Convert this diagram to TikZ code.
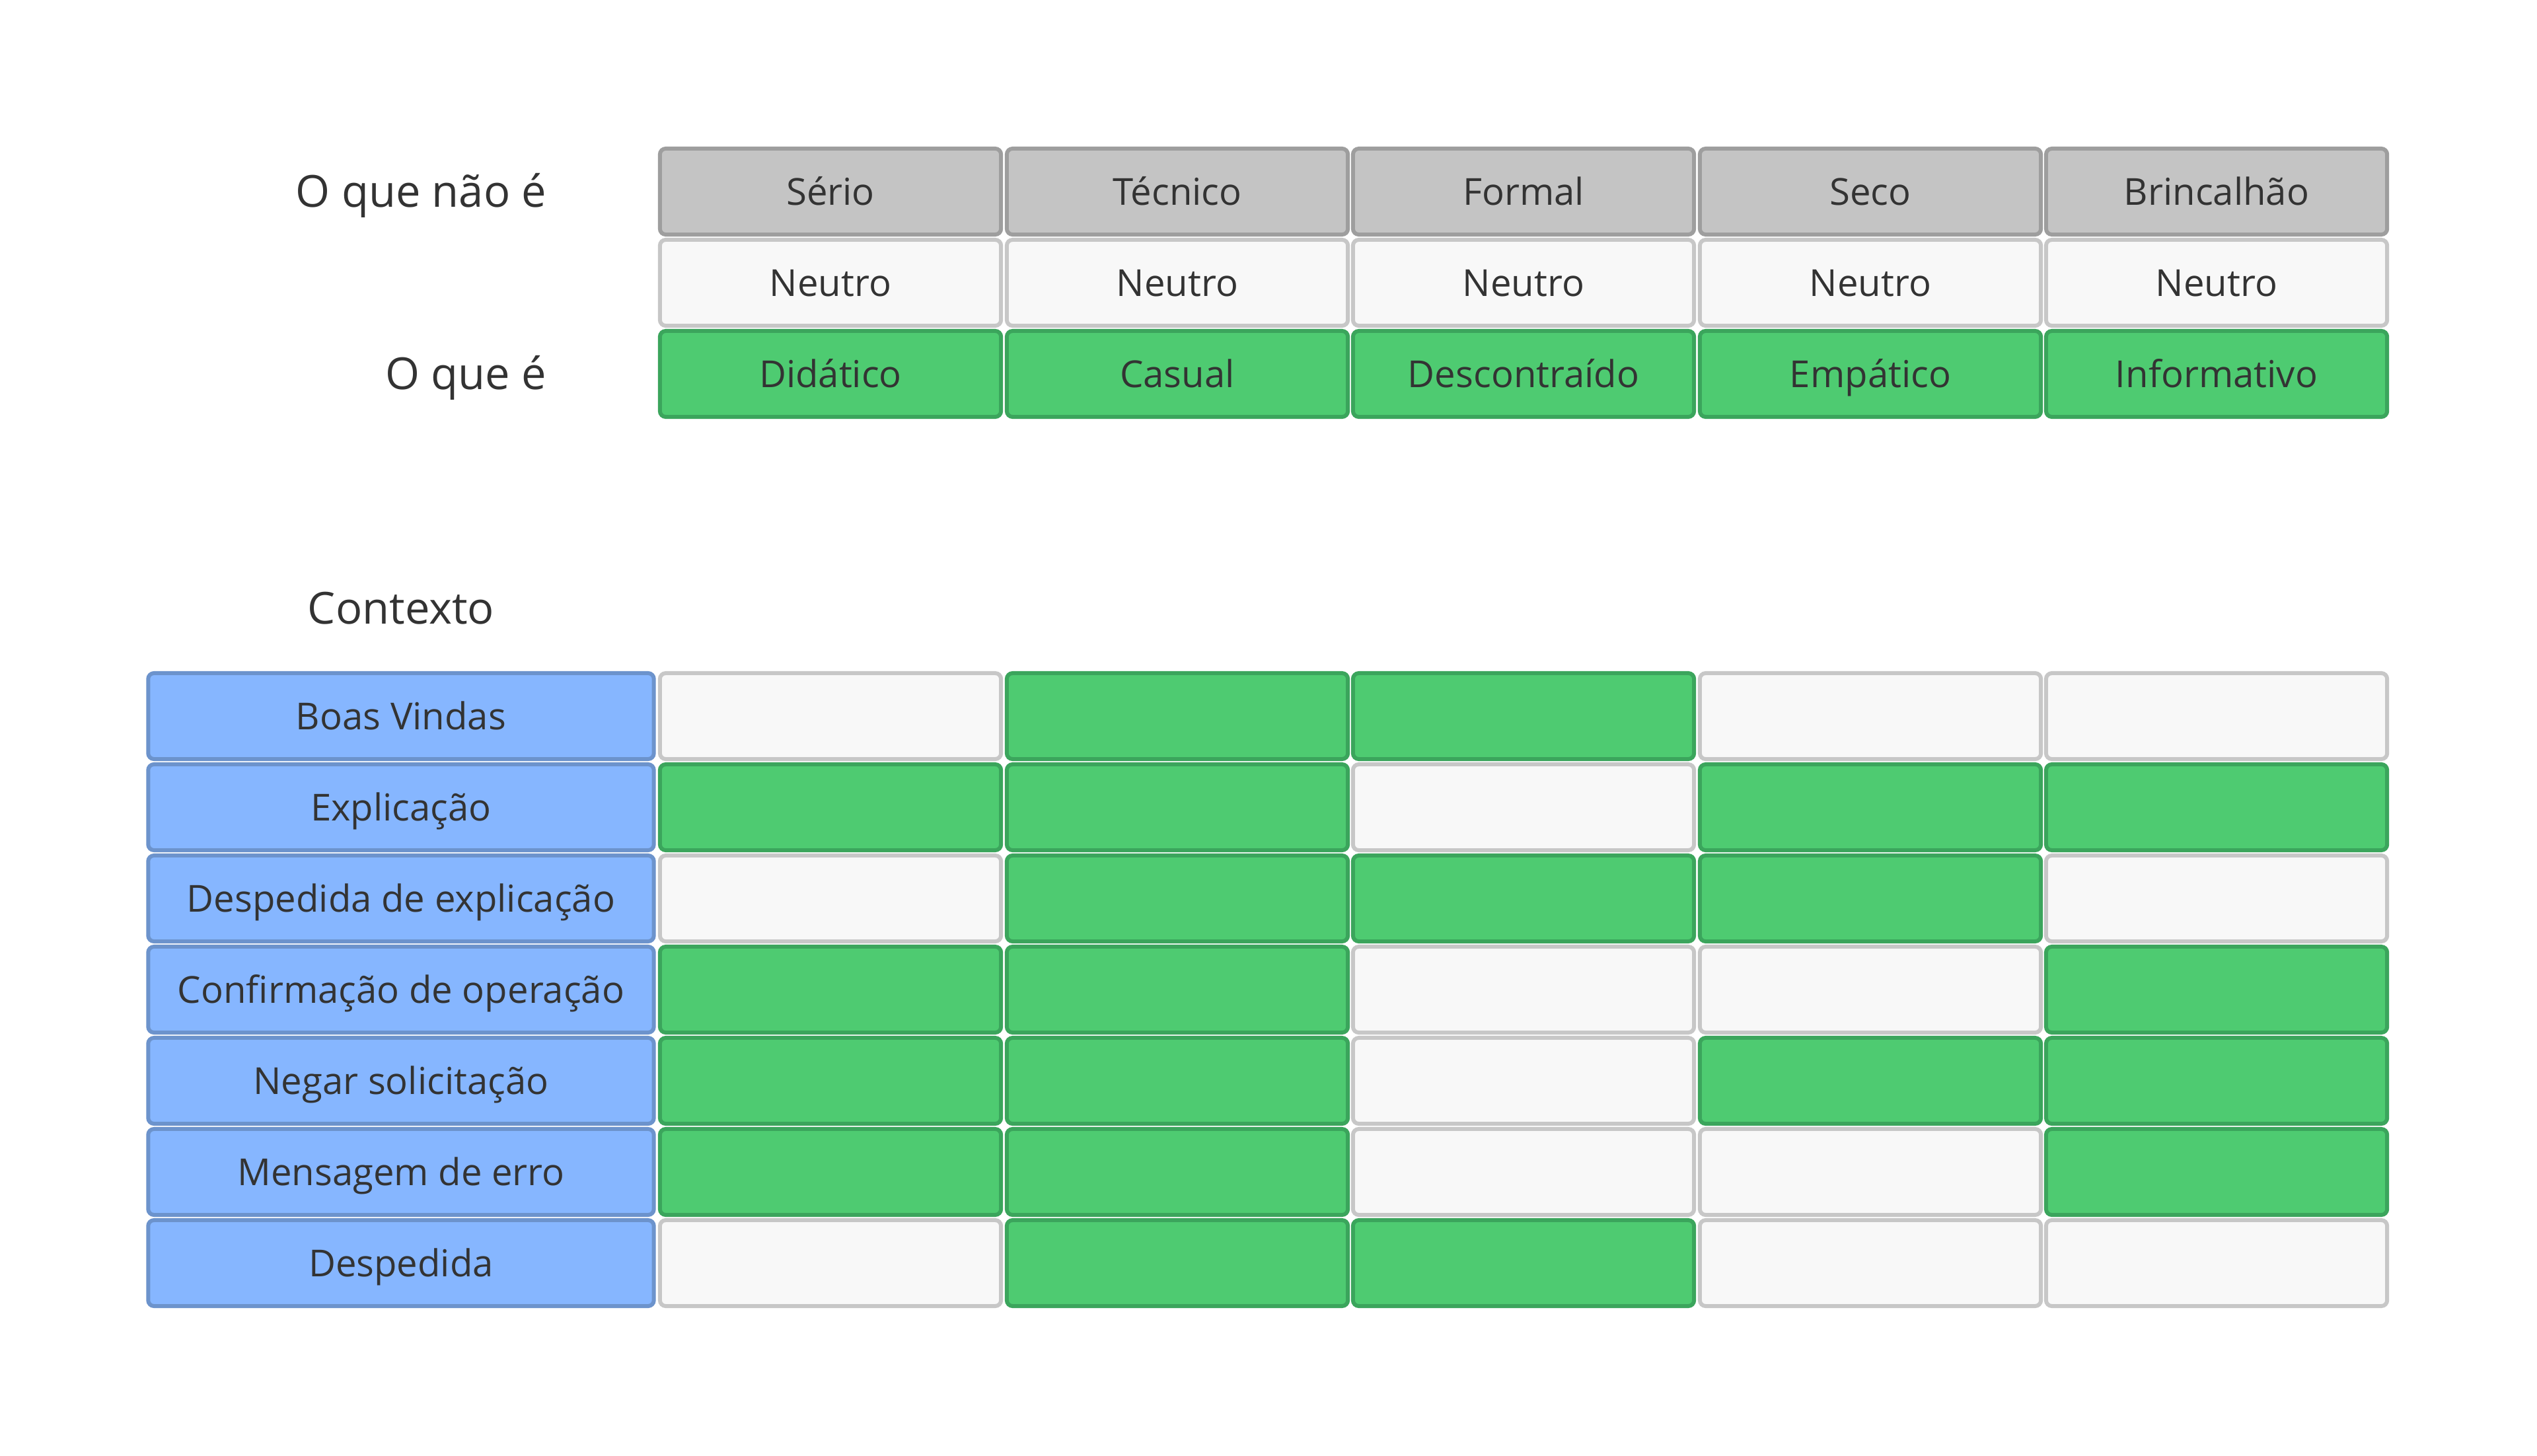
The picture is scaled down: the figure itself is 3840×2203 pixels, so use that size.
\documentclass[tikz,border=0pt]{standalone}
\usepackage{fontspec}
\setmainfont{Open Sans}
\definecolor{txt}{HTML}{333333}
\definecolor{grayfill}{HTML}{C4C4C4}
\definecolor{grayline}{HTML}{9E9E9E}
\definecolor{whitefill}{HTML}{F8F8F8}
\definecolor{whiteline}{HTML}{C7C7C7}
\definecolor{greenfill}{HTML}{4ECB71}
\definecolor{greenline}{HTML}{3BA55C}
\definecolor{bluefill}{HTML}{86B6FF}
\definecolor{blueline}{HTML}{6C93CC}
\tikzset{
	cell/.style={rectangle,rounded corners=2.5pt,line width=1.7pt,inner sep=0pt,
		minimum width=5.16cm,minimum height=1.30cm,text=txt,
		text height=14pt,text depth=2.6pt,
		font=\fontsize{16}{19}\selectfont},
	cellgray/.style={cell,draw=grayline,fill=grayfill},
	cellwhite/.style={cell,draw=whiteline,fill=whitefill},
	cellgreen/.style={cell,draw=greenline,fill=greenfill},
	cellblue/.style={cell,draw=blueline,fill=bluefill,minimum width=7.65cm},
	heading/.style={text=txt,inner sep=0pt,text height=16pt,text depth=2.5pt,
		font=\fontsize{19}{23}\selectfont}
}
\begin{document}
\begin{tikzpicture}[x=0.01cm,y=-0.01cm]
	\useasboundingbox[fill=white] (0,0) rectangle (3840,2203);

	% headings
	\node[heading,anchor=east] (naoe) at (828,290) {O que não é};
	\node[heading,anchor=east] (quee) at (828,566) {O que é};
	\node[heading] (contexto) at (607,921) {Contexto};

	% o que nao e
	\node[cellgray] (nao1) at (1257,290) {Sério};
	\node[cellgray] (nao2) at (1782,290) {Técnico};
	\node[cellgray] (nao3) at (2306,290) {Formal};
	\node[cellgray] (nao4) at (2831,290) {Seco};
	\node[cellgray] (nao5) at (3355,290) {Brincalhão};

	% neutro
	\node[cellwhite] (neu1) at (1257,428) {Neutro};
	\node[cellwhite] (neu2) at (1782,428) {Neutro};
	\node[cellwhite] (neu3) at (2306,428) {Neutro};
	\node[cellwhite] (neu4) at (2831,428) {Neutro};
	\node[cellwhite] (neu5) at (3355,428) {Neutro};

	% o que e
	\node[cellgreen] (sim1) at (1257,566) {Didático};
	\node[cellgreen] (sim2) at (1782,566) {Casual};
	\node[cellgreen] (sim3) at (2306,566) {Descontraído};
	\node[cellgreen] (sim4) at (2831,566) {Empático};
	\node[cellgreen] (sim5) at (3355,566) {Informativo};

	% contextos
	\node[cellblue] (ctx1) at (607,1084) {Boas Vindas};
	\node[cellblue] (ctx2) at (607,1222) {Explicação};
	\node[cellblue] (ctx3) at (607,1360) {Despedida de explicação};
	\node[cellblue] (ctx4) at (607,1498) {Confirmação de operação};
	\node[cellblue] (ctx5) at (607,1636) {Negar solicitação};
	\node[cellblue] (ctx6) at (607,1774) {Mensagem de erro};
	\node[cellblue] (ctx7) at (607,1912) {Despedida};

	% Boas Vindas
	\node[cellwhite] (c11) at (1257,1084) {};
	\node[cellgreen] (c12) at (1782,1084) {};
	\node[cellgreen] (c13) at (2306,1084) {};
	\node[cellwhite] (c14) at (2831,1084) {};
	\node[cellwhite] (c15) at (3355,1084) {};

	% Explicacao
	\node[cellgreen] (c21) at (1257,1222) {};
	\node[cellgreen] (c22) at (1782,1222) {};
	\node[cellwhite] (c23) at (2306,1222) {};
	\node[cellgreen] (c24) at (2831,1222) {};
	\node[cellgreen] (c25) at (3355,1222) {};

	% Despedida de explicacao
	\node[cellwhite] (c31) at (1257,1360) {};
	\node[cellgreen] (c32) at (1782,1360) {};
	\node[cellgreen] (c33) at (2306,1360) {};
	\node[cellgreen] (c34) at (2831,1360) {};
	\node[cellwhite] (c35) at (3355,1360) {};

	% Confirmacao de operacao
	\node[cellgreen] (c41) at (1257,1498) {};
	\node[cellgreen] (c42) at (1782,1498) {};
	\node[cellwhite] (c43) at (2306,1498) {};
	\node[cellwhite] (c44) at (2831,1498) {};
	\node[cellgreen] (c45) at (3355,1498) {};

	% Negar solicitacao
	\node[cellgreen] (c51) at (1257,1636) {};
	\node[cellgreen] (c52) at (1782,1636) {};
	\node[cellwhite] (c53) at (2306,1636) {};
	\node[cellgreen] (c54) at (2831,1636) {};
	\node[cellgreen] (c55) at (3355,1636) {};

	% Mensagem de erro
	\node[cellgreen] (c61) at (1257,1774) {};
	\node[cellgreen] (c62) at (1782,1774) {};
	\node[cellwhite] (c63) at (2306,1774) {};
	\node[cellwhite] (c64) at (2831,1774) {};
	\node[cellgreen] (c65) at (3355,1774) {};

	% Despedida
	\node[cellwhite] (c71) at (1257,1912) {};
	\node[cellgreen] (c72) at (1782,1912) {};
	\node[cellgreen] (c73) at (2306,1912) {};
	\node[cellwhite] (c74) at (2831,1912) {};
	\node[cellwhite] (c75) at (3355,1912) {};
\end{tikzpicture}
\end{document}
